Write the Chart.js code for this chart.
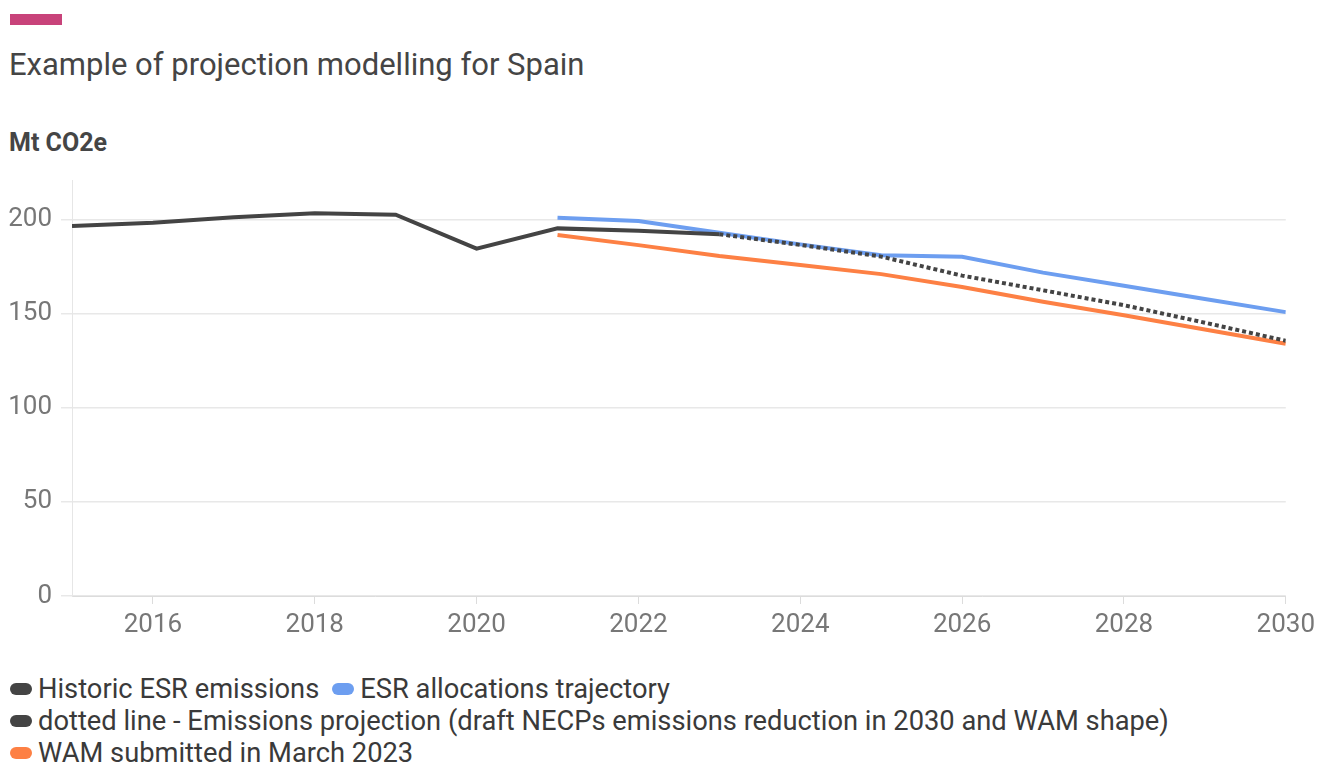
<!DOCTYPE html>
<html>
<head>
<meta charset="utf-8">
<script src="https://cdn.jsdelivr.net/npm/chart.js@4.4.1/dist/chart.umd.min.js"></script>
<style>
  html, body { margin: 0; padding: 0; background: #fff; }
  body { width: 1321px; height: 765px; position: relative; overflow: hidden; font-family: Roboto, sans-serif; }
  .accent { position: absolute; left: 10px; top: 14px; width: 52px; height: 11px; background: #c8437a; }
  .title { position: absolute; left: 9px; top: 47px; font-size: 31px; line-height: 36px; color: #454545; white-space: nowrap; }
  .unit { position: absolute; left: 9px; top: 129px; font-size: 25px; line-height: 28px; font-weight: bold; color: #454545; }
  .chart-wrap { position: absolute; left: 0; top: 168px; width: 1321px; height: 472px; }
  .legend { position: absolute; left: 10px; top: 673px; font-size: 27.3px; color: #3a3a3a; line-height: 32px; }
  .legend .row { white-space: nowrap; }
  .legend .item { display: inline-block; margin-right: 13px; }
  .legend .swatch { display: inline-block; width: 22px; height: 12px; border-radius: 6px; margin-right: 6px; vertical-align: 3px; }
</style>
</head>
<body>
<div class="accent"></div>
<div class="title">Example of projection modelling for Spain</div>
<div class="unit">Mt CO2e</div>
<div class="chart-wrap"><canvas id="chart"></canvas></div>
<div class="legend" id="legend"></div>

<script>
// ------------------------------------------------------------
// data (Mt CO2e)
// ------------------------------------------------------------
const years = [2015, 2016, 2017, 2018, 2019, 2020, 2021, 2022, 2023, 2024, 2025, 2026, 2027, 2028, 2029, 2030];
const historic = [196.5, 198.3, 201.2, 203.4, 202.6, 184.5, 195.3, 194.0, 192.2, null, null, null, null, null, null, null];
const allocations = [null, null, null, null, null, null, 201.0, 199.2, 193.0, 186.8, 181.0, 180.2, 171.8, 164.8, 157.8, 150.8];
const projection = [null, null, null, null, null, null, null, null, 192.2, 186.5, 180.3, 170.2, 162.4, 154.5, 145.2, 135.6];
const wam = [null, null, null, null, null, null, 191.8, 186.4, 180.6, 175.8, 171.0, 164.2, 156.3, 149.2, 141.6, 134.0];

const xTicks = [2016, 2018, 2020, 2022, 2024, 2026, 2028, 2030];
const yTicks = [0, 50, 100, 150, 200];

const DARK = '#444444';
const BLUE = '#6d9ef0';
const ORANGE = '#fd8044';

const toPoints = arr => years.map((y, i) => ({ x: y, y: arr[i] }));

const seriesDefs = [
  { label: 'Historic ESR emissions', data: historic, color: DARK, dash: [] },
  { label: 'ESR allocations trajectory', data: allocations, color: BLUE, dash: [] },
  { label: 'dotted line - Emissions projection (draft NECPs emissions reduction in 2030 and WAM shape)', data: projection, color: DARK, dash: [4, 3] },
  { label: 'WAM submitted in March 2023', data: wam, color: ORANGE, dash: [] },
];

// draw order: projection on top of the others
const drawOrder = { 0: 2, 1: 3, 2: 0, 3: 1 };

const datasets = seriesDefs.map((s, i) => ({
  label: s.label,
  data: toPoints(s.data),
  borderColor: s.color,
  backgroundColor: s.color,
  borderWidth: 4,
  borderDash: s.dash,
  pointRadius: 0,
  tension: 0,
  spanGaps: false,
  order: drawOrder[i],
}));

new Chart(document.getElementById('chart'), {
  type: 'line',
  data: { datasets },
  options: {
    responsive: true,
    maintainAspectRatio: false,
    animation: false,
    layout: { padding: { top: 12, right: 34, left: 0, bottom: 0 } },
    plugins: { legend: { display: false }, tooltip: { enabled: false } },
    scales: {
      x: {
        type: 'linear',
        min: 2015,
        max: 2030,
        afterBuildTicks: axis => { axis.ticks = xTicks.map(v => ({ value: v })); },
        afterFit: axis => { axis.height = 44; },
        border: { display: true, color: '#dcdcdc', width: 1 },
        grid: { drawOnChartArea: false, drawTicks: true, tickLength: 8, color: '#dcdcdc' },
        ticks: {
          callback: v => String(v),
          color: '#777777',
          font: { family: 'Roboto', size: 26 },
          padding: 6,
          maxRotation: 0,
        },
      },
      y: {
        min: 0,
        max: 221,
        afterBuildTicks: axis => { axis.ticks = yTicks.map(v => ({ value: v })); },
        // fixed gutter; no extra room reserved above the top tick label
        afterFit: axis => { axis.width = 72; axis.paddingTop = 0; axis.paddingBottom = 0; },
        border: { display: true, color: '#e6e6e6', width: 1 },
        grid: { color: '#e8e8e8', lineWidth: 1.5, tickLength: 11 },
        ticks: {
          color: '#777777',
          font: { family: 'Roboto', size: 26 },
          padding: 9,
        },
      },
    },
  },
});

// legend rows laid out like the chart tool: first two share a line
const legendRows = [[0, 1], [2], [3]];
document.getElementById('legend').innerHTML = legendRows.map(row =>
  `<div class="row">${row.map(i =>
    `<span class="item"><span class="swatch" style="background:${seriesDefs[i].color}"></span>${seriesDefs[i].label}</span>`
  ).join('')}</div>`
).join('');
</script>
</body>
</html>
